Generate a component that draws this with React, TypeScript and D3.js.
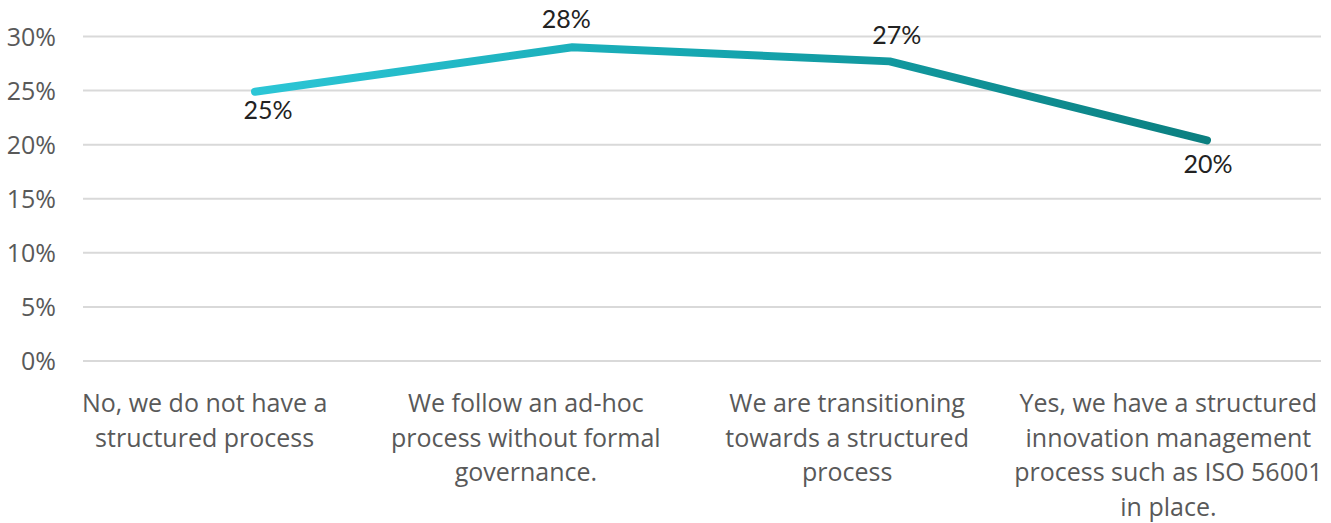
import React from "react";
import * as d3 from "d3";

const categories: string[][] = [
  ["No, we do not have a", "structured process"],
  ["We follow an ad-hoc", "process without formal", "governance."],
  ["We are transitioning", "towards a structured", "process"],
  ["Yes, we have a structured", "innovation management", "process such as ISO 56001", "in place."],
];
const values: number[] = [24.9, 29.0, 27.7, 20.4];
const valueLabels: string[] = ["25%", "28%", "27%", "20%"];
const yTicks: number[] = [0, 5, 10, 15, 20, 25, 30];

const W = 1331;
const H = 523;
const labelDx = [13, -6, 7, 1];
const labelDy = [27, -19, -17, 33];

export default function App() {
  const y = d3.scaleLinear().domain([0, 30]).range([361, 36.5]);
  const xLine = d3.scalePoint<number>().domain(d3.range(values.length)).range([255, 1207]);
  const xCat = d3.scaleBand<number>().domain(d3.range(categories.length)).range([44, 1329]);
  const line = d3
    .line<number>()
    .x((_, i) => xLine(i)!)
    .y((d) => y(d));

  return (
    <svg
      width={W}
      height={H}
      style={{ position: "absolute", left: 0, top: 0, background: "#fff" }}
    >
      <defs>
        <linearGradient id="lg" gradientUnits="userSpaceOnUse" x1={xLine(0)} x2={xLine(3)} y1={0} y2={0}>
          <stop offset="0%" stopColor="#2cc6d6" />
          <stop offset="45%" stopColor="#16a8b2" />
          <stop offset="100%" stopColor="#0b7f80" />
        </linearGradient>
      </defs>
      {yTicks.map((t) => (
        <g key={t}>
          <line x1={83} x2={1321} y1={y(t)} y2={y(t)} stroke="#d9d9d9" strokeWidth={2} />
          <text
            x={56}
            y={y(t)}
            dy="0.36em"
            textAnchor="end"
            fontFamily="Open Sans"
            fontSize={25}
            fill="#595959"
          >
            {t}%
          </text>
        </g>
      ))}
      <path
        d={line(values) || ""}
        fill="none"
        stroke="url(#lg)"
        strokeWidth={8}
        strokeLinecap="round"
        strokeLinejoin="round"
      />
      {values.map((v, i) => (
        <text
          key={i}
          x={xLine(i)! + labelDx[i]}
          y={y(v) + labelDy[i]}
          textAnchor="middle"
          fontFamily="Lato"
          fontSize={25}
          fill="#222"
        >
          {valueLabels[i]}
        </text>
      ))}
      {categories.map((lines, i) => (
        <text
          key={i}
          x={xCat(i)! + xCat.bandwidth() / 2}
          y={412}
          textAnchor="middle"
          fontFamily="Open Sans"
          fontSize={25}
          fill="#595959"
        >
          {lines.map((l, j) => (
            <tspan key={j} x={xCat(i)! + xCat.bandwidth() / 2} dy={j === 0 ? 0 : 34.5}>
              {l}
            </tspan>
          ))}
        </text>
      ))}
    </svg>
  );
}
